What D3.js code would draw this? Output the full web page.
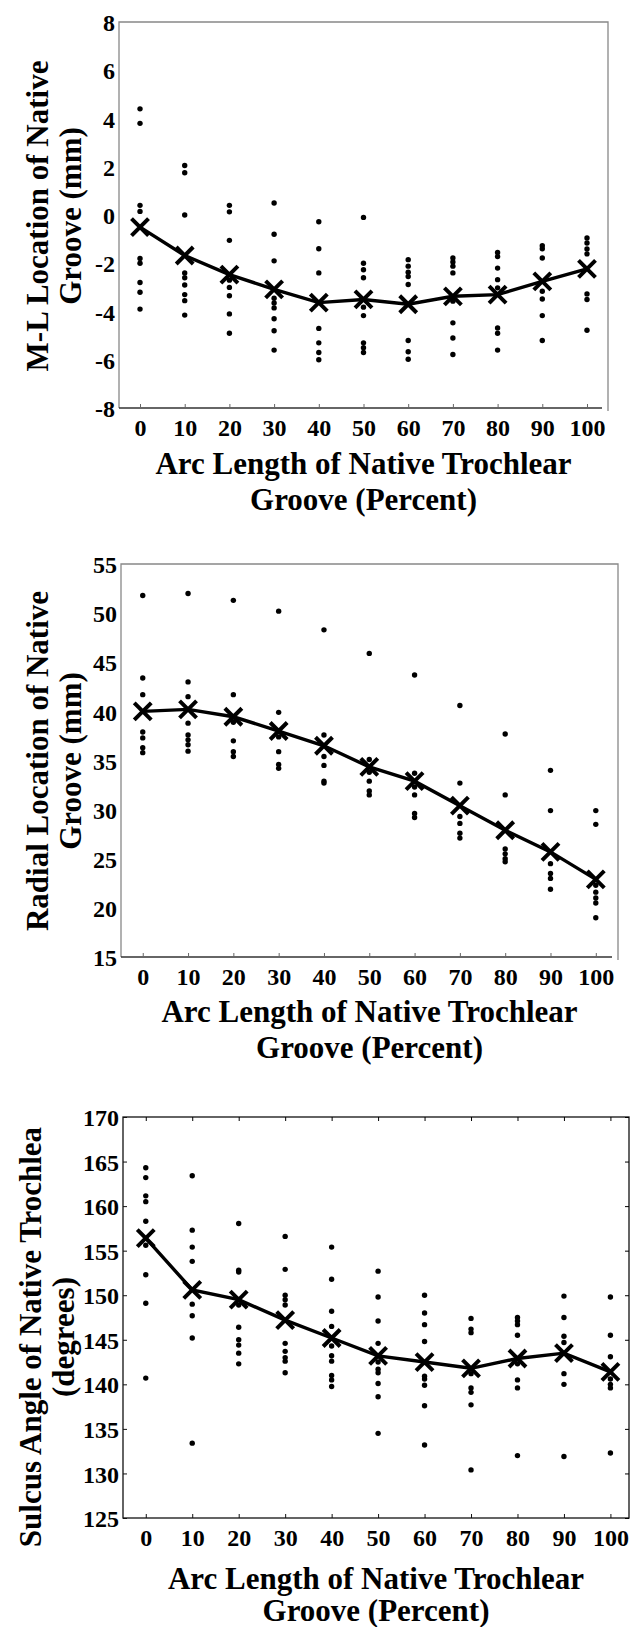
<!DOCTYPE html>
<html>
<head>
<meta charset="utf-8">
<script src="https://cdn.jsdelivr.net/npm/d3@7"></script>
<style>
  body { margin: 0; background: #fff; }
  text { font-family: "Liberation Serif", "Times New Roman", serif; font-weight: bold; fill: #000; }
</style>
</head>
<body>
<svg id="fig" width="631" height="1627"></svg>
<script>
// x categories (percent of arc length), shared by all three panels
const arcPercent = [0, 10, 20, 30, 40, 50, 60, 70, 80, 90, 100];

// Panel 1: M-L location of native groove (mm)
const mlTicks = [-8, -6, -4, -2, 0, 2, 4, 6, 8];
const mlPoints = [
  [4.4, 3.8, 0.4, 0.15, -1.8, -2.0, -2.8, -3.2, -3.9],
  [2.05, 1.75, 0.0, -2.4, -2.6, -2.9, -3.3, -3.55, -4.15],
  [0.4, 0.13, -1.05, -2.7, -3.0, -3.35, -4.1, -4.9],
  [0.5, -0.8, -1.9, -3.45, -3.65, -3.85, -4.3, -4.8, -5.6],
  [-0.28, -1.4, -2.4, -4.7, -5.3, -5.7, -6.0],
  [-0.1, -2.0, -2.27, -2.6, -3.82, -4.17, -5.3, -5.5, -5.7],
  [-1.85, -2.12, -2.37, -2.55, -2.88, -5.2, -5.67, -5.98],
  [-1.78, -1.95, -2.12, -2.4, -3.57, -4.47, -5.1, -5.78],
  [-1.55, -1.72, -2.2, -2.68, -3.02, -4.68, -4.9, -5.6],
  [-1.27, -1.4, -1.78, -3.16, -3.48, -4.17, -5.2],
  [-0.95, -1.16, -1.41, -1.61, -3.27, -3.5, -4.78]
];
const mlMean = [-0.5, -1.68, -2.47, -3.08, -3.63, -3.5, -3.7, -3.37, -3.3, -2.75, -2.23];

// Panel 2: radial location of native groove (mm)
const radialTicks = [15, 20, 25, 30, 35, 40, 45, 50, 55];
const radialPoints = [
  [51.8, 43.4, 41.7, 37.9, 37.3, 36.3, 35.8],
  [52.0, 43.0, 41.5, 38.8, 37.6, 37.1, 36.6, 35.95],
  [51.3, 41.7, 38.9, 37.0, 35.9, 35.4],
  [50.2, 39.9, 37.4, 35.9, 34.6, 34.2],
  [48.3, 37.6, 35.4, 34.5, 32.9, 32.7],
  [45.9, 35.1, 33.8, 32.9, 31.9, 31.5],
  [43.7, 33.7, 32.3, 31.5, 29.6, 29.2],
  [40.6, 32.7, 29.3, 28.6, 27.6, 27.1],
  [37.7, 31.5, 26.0, 25.5, 25.0, 24.7],
  [34.0, 29.9, 24.5, 23.5, 23.0, 21.9],
  [29.9, 28.5, 22.3, 21.6, 21.0, 20.5, 19.0]
];
const radialMean = [40.0, 40.2, 39.45, 38.0, 36.5, 34.35, 32.9, 30.4, 27.9, 25.7, 22.9];

// Panel 3: sulcus angle of native trochlea (degrees)
const sulcusTicks = [125, 130, 135, 140, 145, 150, 155, 160, 165, 170];
const sulcusPoints = [
  [164.3, 163.2, 161.15, 160.5, 158.3, 155.6, 152.3, 149.1, 140.7],
  [163.4, 157.3, 155.4, 153.8, 149.0, 147.7, 145.2, 133.4],
  [158.05, 152.8, 152.6, 148.9, 146.4, 145.0, 144.4, 143.5, 142.3],
  [156.6, 152.9, 150.0, 149.5, 148.9, 144.6, 143.7, 143.0, 142.6, 141.3],
  [155.4, 151.8, 148.2, 146.5, 144.3, 143.2, 142.6, 141.0, 140.5, 139.75],
  [152.7, 149.8, 147.1, 144.6, 142.5, 141.7, 141.3, 140.1, 138.6, 134.5],
  [150.0, 148.0, 146.7, 144.8, 140.9, 140.6, 139.9, 137.6, 133.2],
  [147.4, 146.2, 145.8, 141.2, 139.6, 139.1, 137.7, 130.4],
  [147.5, 147.1, 146.7, 145.5, 142.3, 140.5, 139.6, 132.0],
  [149.9, 147.5, 145.4, 144.7, 141.2, 140.0, 131.9],
  [149.8, 145.5, 143.1, 140.6, 140.0, 139.6, 132.3]
];
const sulcusMean = [156.4, 150.6, 149.5, 147.2, 145.2, 143.2, 142.5, 141.8, 142.9, 143.5, 141.4];

const xTitle = ["Arc Length of Native Trochlear", "Groove (Percent)"];

// layout of each panel (plot box in px, axis titles)
const panels = [
  { points: mlPoints, mean: mlMean, ticks: mlTicks, yDomain: [-8, 8], xDomain: [-4.7, 104.7],
    box: { l: 119, r: 608, t: 22, b: 408 }, boxed: false,
    yTitle: ["M-L Location of Native", "Groove (mm)"], yTitleX: [48, 81], yTitleMid: 216,
    xTitleY: [474, 510] },
  { points: radialPoints, mean: radialMean, ticks: radialTicks, yDomain: [15, 55], xDomain: [-4.8, 104.9],
    box: { l: 121, r: 618, t: 564, b: 957 }, boxed: false,
    yTitle: ["Radial Location of Native", "Groove (mm)"], yTitleX: [48, 81], yTitleMid: 761,
    xTitleY: [1022, 1058] },
  { points: sulcusPoints, mean: sulcusMean, ticks: sulcusTicks, yDomain: [125, 170], xDomain: [-4.9, 104.0],
    box: { l: 123, r: 629, t: 1117, b: 1518 }, boxed: true,
    yTitle: ["Sulcus Angle of Native Trochlea", "(degrees)"], yTitleX: [41, 74], yTitleMid: 1337,
    xTitleY: [1589, 1621] }
];

const svg = d3.select("#fig");

panels.forEach(drawPanel);

function drawPanel(p) {
  const { l, r, t, b } = p.box;
  const x = d3.scaleLinear().domain(p.xDomain).range([l, r]);
  const y = d3.scaleLinear().domain(p.yDomain).range([b, t]);
  const g = svg.append("g");

  // frame
  if (p.boxed) {
    g.append("rect").attr("x", l).attr("y", t).attr("width", r - l).attr("height", b - t)
      .attr("fill", "none").attr("stroke", "#111").attr("stroke-width", 1.3);
  } else {
    g.append("path").attr("d", `M${l},${b}V${t}H${r}V${b + 3}`)
      .attr("fill", "none").attr("stroke", "#888").attr("stroke-width", 1.3);
    g.append("line").attr("x1", l).attr("x2", r - 6).attr("y1", b).attr("y2", b)
      .attr("stroke", "#333").attr("stroke-width", 1.6);
  }

  // x axis
  const xAxis = g.append("g").attr("transform", `translate(0,${b})`)
    .call(d3.axisBottom(x).tickValues(arcPercent).tickSize(-4).tickFormat(d => String(d)));
  xAxis.select(".domain").remove();
  xAxis.selectAll("line").attr("stroke", p.boxed ? "#111" : "#666");
  xAxis.selectAll("text").attr("y", 28).attr("dy", null)
    .style("font-size", "24px").attr("fill", "#000");

  // y axis
  const yAxis = g.append("g").attr("transform", `translate(${l},0)`)
    .call(d3.axisLeft(y).tickValues(p.ticks).tickSize(p.boxed ? -4 : 0).tickPadding(4)
      .tickFormat(d => String(d)));
  yAxis.select(".domain").remove();
  yAxis.selectAll("line").attr("stroke", "#111");
  yAxis.selectAll("text").attr("dy", "0.36em").style("font-size", "24px").attr("fill", "#000");

  if (p.boxed) {
    const top = g.append("g").attr("transform", `translate(0,${t})`)
      .call(d3.axisTop(x).tickValues(arcPercent).tickSize(-4).tickFormat(""));
    top.select(".domain").remove();
    const right = g.append("g").attr("transform", `translate(${r},0)`)
      .call(d3.axisRight(y).tickValues(p.ticks).tickSize(-4).tickFormat(""));
    right.select(".domain").remove();
  }

  // individual knees
  const dots = [];
  p.points.forEach((vals, i) => vals.forEach(v => dots.push([arcPercent[i], v])));
  g.append("g").selectAll("circle").data(dots).join("circle")
    .attr("cx", d => x(d[0])).attr("cy", d => y(d[1])).attr("r", 2.7).attr("fill", "#000");

  // mean line
  const meanData = arcPercent.map((a, i) => [a, p.mean[i]]);
  g.append("path").datum(meanData)
    .attr("d", d3.line().x(d => x(d[0])).y(d => y(d[1])))
    .attr("fill", "none").attr("stroke", "#000").attr("stroke-width", 3.4);

  g.append("g").selectAll("path").data(meanData).join("path")
    .attr("transform", d => `translate(${x(d[0])},${y(d[1])})`)
    .attr("d", "M-8.5,-8.5L8.5,8.5M-8.5,8.5L8.5,-8.5")
    .attr("stroke", "#000").attr("stroke-width", 4).attr("fill", "none");

  // axis titles
  const xMid = (l + r) / 2;
  xTitle.forEach((txt, i) => {
    g.append("text").attr("x", xMid).attr("y", p.xTitleY[i])
      .attr("text-anchor", "middle").style("font-size", "31px").text(txt);
  });
  p.yTitle.forEach((txt, i) => {
    g.append("text")
      .attr("transform", `translate(${p.yTitleX[i]},${p.yTitleMid}) rotate(-90)`)
      .attr("text-anchor", "middle").style("font-size", "31px").text(txt);
  });
}
</script>
</body>
</html>
